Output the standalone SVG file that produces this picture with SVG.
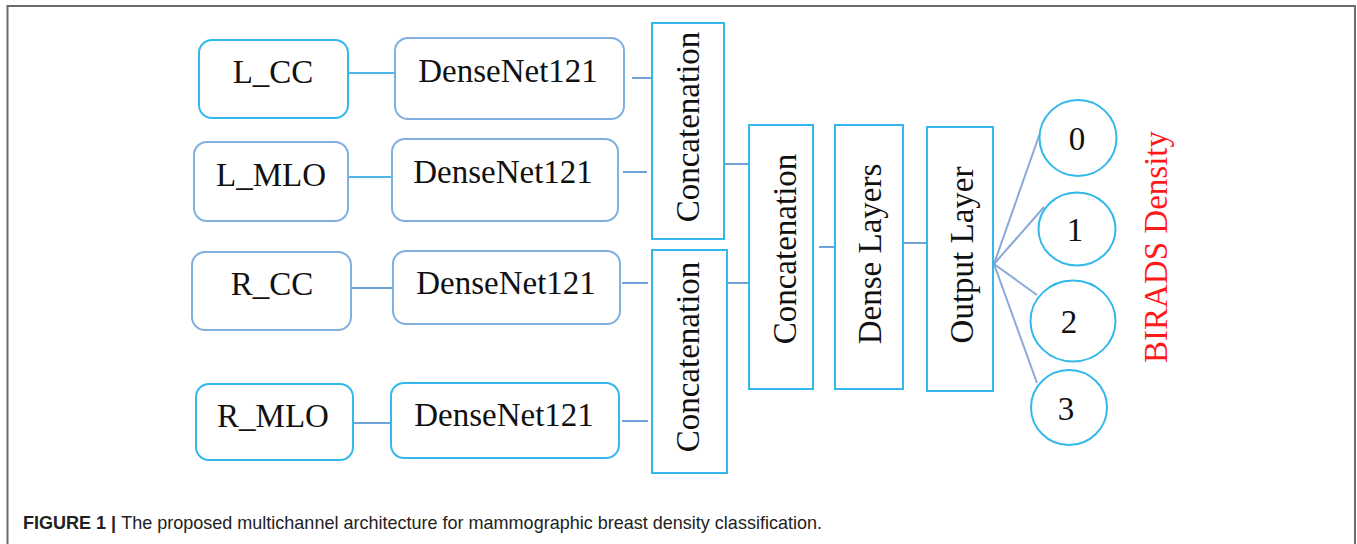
<svg xmlns="http://www.w3.org/2000/svg" width="1357" height="544" viewBox="0 0 1357 544">
  <style>
    .frame { fill: none; stroke: #6b6b6b; stroke-width: 2; }
    .box { fill: #ffffff; stroke-width: 2; }
    .cyan { stroke: #33b8ec; }
    .soft { stroke: #7fb0e0; }
    .lbl { font-family: "Liberation Serif", "Times New Roman", serif; font-size: 33px; fill: #111111; }
    .mid { text-anchor: middle; }
    .wire { fill: none; stroke-width: 2; }
    .wire-c { stroke: #4db8e8; }
    .wire-s { stroke: #6fa3d8; }
    .fan { stroke: #8aa8d8; stroke-width: 2; }
    .legend { font-family: "Liberation Serif", "Times New Roman", serif; font-size: 33px; fill: #ff1a1a; }
    .cap { font-family: "Liberation Sans", Arial, sans-serif; font-size: 19px; fill: #222222; }
  </style>

  <rect x="0" y="0" width="1357" height="544" fill="#ffffff"/>
  <path class="frame" d="M7.5,544 V6 H1355 V544"/>

  <!-- connectors -->
  <g id="connectors">
    <line class="wire wire-c" x1="348" y1="73" x2="395" y2="73"/>
    <line class="wire wire-c" x1="348" y1="177" x2="392" y2="177"/>
    <line class="wire wire-s" x1="352" y1="288" x2="393" y2="288"/>
    <line class="wire wire-s" x1="353" y1="423" x2="391" y2="423"/>
    <line class="wire wire-s" x1="632" y1="78" x2="652" y2="78"/>
    <line class="wire wire-s" x1="623" y1="172" x2="647" y2="172"/>
    <line class="wire wire-s" x1="622" y1="283" x2="648" y2="283"/>
    <line class="wire wire-s" x1="622" y1="421" x2="648" y2="421"/>
    <line class="wire wire-s" x1="724" y1="164" x2="749" y2="164"/>
    <line class="wire wire-s" x1="727" y1="283" x2="749" y2="283"/>
    <line class="wire wire-s" x1="819" y1="247" x2="835" y2="247"/>
    <line class="wire wire-s" x1="903" y1="243" x2="927" y2="243"/>
    <line class="fan" x1="994" y1="264" x2="1040" y2="133"/>
    <line class="fan" x1="994" y1="264" x2="1044" y2="207"/>
    <line class="fan" x1="994" y1="264" x2="1037" y2="295"/>
    <line class="fan" x1="994" y1="264" x2="1037" y2="383"/>
  </g>

  <!-- input views -->
  <g id="l_cc">
    <rect class="box cyan" x="199" y="40" width="149" height="78" rx="13"/>
    <text class="lbl mid" x="273" y="83">L_CC</text>
  </g>
  <g id="l_mlo">
    <rect class="box soft" x="194" y="142" width="154" height="79" rx="13"/>
    <text class="lbl mid" x="271" y="186">L_MLO</text>
  </g>
  <g id="r_cc">
    <rect class="box soft" x="192" y="252" width="159" height="78" rx="13"/>
    <text class="lbl mid" x="272" y="295">R_CC</text>
  </g>
  <g id="r_mlo">
    <rect class="box cyan" x="196" y="384" width="157" height="76" rx="13"/>
    <text class="lbl mid" x="273" y="427">R_MLO</text>
  </g>

  <!-- feature extractors -->
  <g id="densenet_l_cc">
    <rect class="box soft" x="395" y="38" width="229" height="81" rx="13"/>
    <text class="lbl mid" x="508" y="82">DenseNet121</text>
  </g>
  <g id="densenet_l_mlo">
    <rect class="box soft" x="392" y="139" width="226" height="82" rx="13"/>
    <text class="lbl mid" x="503" y="183">DenseNet121</text>
  </g>
  <g id="densenet_r_cc">
    <rect class="box soft" x="393" y="251" width="227" height="73" rx="13"/>
    <text class="lbl mid" x="506" y="294">DenseNet121</text>
  </g>
  <g id="densenet_r_mlo">
    <rect class="box cyan" x="391" y="383" width="228" height="75" rx="13"/>
    <text class="lbl mid" x="504" y="426">DenseNet121</text>
  </g>

  <!-- fusion and head -->
  <g id="concat_left">
    <rect class="box cyan" x="652" y="23" width="72" height="216"/>
    <text class="lbl mid" transform="translate(699,127) rotate(-90)">Concatenation</text>
  </g>
  <g id="concat_right">
    <rect class="box cyan" x="652" y="250" width="75" height="223"/>
    <text class="lbl mid" transform="translate(699,357) rotate(-90)">Concatenation</text>
  </g>
  <g id="concat_all">
    <rect class="box cyan" x="749" y="125" width="64" height="264"/>
    <text class="lbl mid" transform="translate(796,249) rotate(-90)">Concatenation</text>
  </g>
  <g id="dense_layers">
    <rect class="box cyan" x="835" y="125" width="68" height="264"/>
    <text class="lbl mid" transform="translate(881,254) rotate(-90)">Dense Layers</text>
  </g>
  <g id="output_layer">
    <rect class="box cyan" x="927" y="127" width="66" height="264"/>
    <text class="lbl mid" transform="translate(973,255) rotate(-90)">Output Layer</text>
  </g>

  <!-- density classes -->
  <g id="class_0">
    <ellipse class="box cyan" cx="1078" cy="138" rx="38.5" ry="38"/>
    <text class="lbl mid" x="1077" y="150">0</text>
  </g>
  <g id="class_1">
    <ellipse class="box cyan" cx="1077" cy="229" rx="38.5" ry="36.5"/>
    <text class="lbl mid" x="1075" y="241">1</text>
  </g>
  <g id="class_2">
    <ellipse class="box cyan" cx="1073" cy="321" rx="42.5" ry="40.5"/>
    <text class="lbl mid" x="1069" y="333">2</text>
  </g>
  <g id="class_3">
    <ellipse class="box cyan" cx="1069" cy="407.5" rx="38" ry="37.5"/>
    <text class="lbl mid" x="1066" y="420">3</text>
  </g>

  <text class="legend mid" transform="translate(1167,247) rotate(-90)">BIRADS Density</text>

  <text class="cap" x="23" y="529" textLength="799" lengthAdjust="spacingAndGlyphs"><tspan font-weight="bold">FIGURE 1 | </tspan>The proposed multichannel architecture for mammographic breast density classification.</text>
</svg>
